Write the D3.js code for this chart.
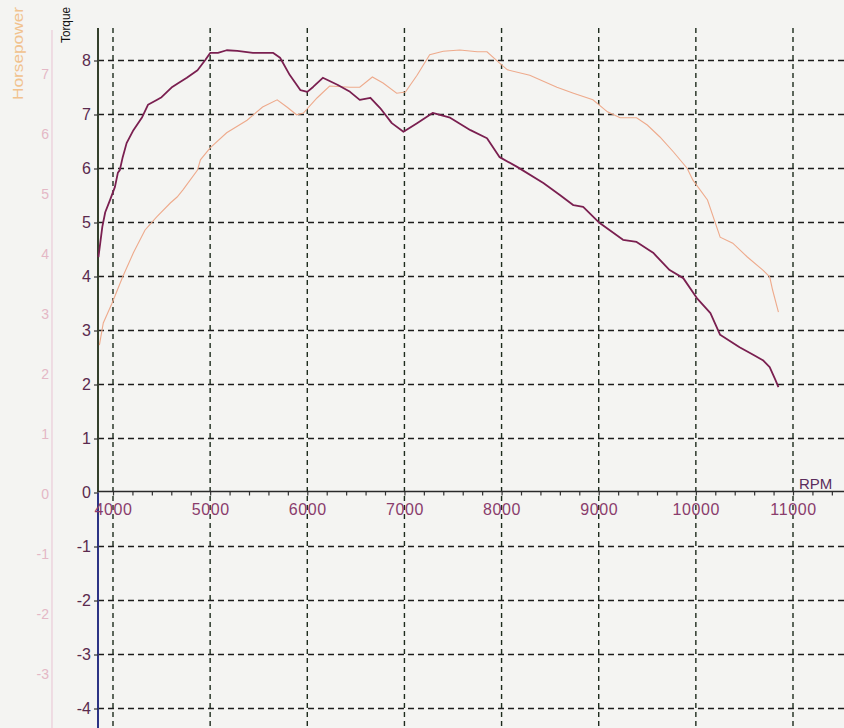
<!DOCTYPE html>
<html>
<head>
<meta charset="utf-8">
<script src="https://cdn.jsdelivr.net/npm/d3@7/dist/d3.min.js"></script>
<style>
  html, body { margin: 0; padding: 0; background: #f4f4f2; }
  svg { display: block; }
  text { font-family: Arial, "Liberation Sans", sans-serif; }
</style>
</head>
<body>
<svg id="chart" width="844" height="728"></svg>
<script>
// ---------- data ----------
const rpmTicks = [4000, 5000, 6000, 7000, 8000, 9000, 10000, 11000];
const torqueTicks = [-4, -3, -2, -1, 0, 1, 2, 3, 4, 5, 6, 7, 8];
const hpTicks = [-3, -2, -1, 0, 1, 2, 3, 4, 5, 6, 7];

const torqueRpm = [3850, 3890, 3920, 3970, 4020, 4050, 4070, 4100, 4140, 4210, 4300, 4360, 4450, 4500,
  4610, 4670, 4760, 4870, 4950, 5000, 5080, 5170, 5280, 5440, 5650, 5720, 5820, 5930, 6000, 6060,
  6160, 6310, 6440, 6540, 6650, 6750, 6870, 6990, 7130, 7290, 7470, 7680, 7850, 7980, 8160, 8430,
  8600, 8740, 8840, 9010, 9250, 9390, 9560, 9730, 9870, 10010, 10150, 10250, 10450, 10590, 10690,
  10760, 10820, 10850];
const torqueVals = [4.36, 4.92, 5.19, 5.42, 5.66, 5.92, 5.97, 6.21, 6.47, 6.71, 6.95, 7.18, 7.27, 7.32,
  7.51, 7.58, 7.68, 7.82, 8.01, 8.14, 8.14, 8.19, 8.18, 8.14, 8.14, 8.05, 7.73, 7.45, 7.42, 7.51,
  7.68, 7.55, 7.42, 7.27, 7.31, 7.12, 6.84, 6.68, 6.84, 7.03, 6.94, 6.71, 6.56, 6.21, 6.03, 5.73,
  5.51, 5.32, 5.29, 4.99, 4.68, 4.64, 4.44, 4.12, 3.97, 3.60, 3.32, 2.92, 2.69, 2.55, 2.45,
  2.32, 2.08, 1.95];

const hpRpm = [3860, 3900, 3990, 4100, 4210, 4330, 4450, 4590, 4660, 4720, 4870, 4900, 5000, 5170,
  5380, 5540, 5690, 5790, 5890, 5960, 6100, 6230, 6440, 6540, 6670, 6780, 6920, 7010, 7130, 7260,
  7400, 7570, 7750, 7850, 7980, 8060, 8290, 8570, 8740, 8940, 9090, 9220, 9390, 9500, 9630, 9770,
  9910, 9970, 10120, 10250, 10380, 10530, 10690, 10760, 10790, 10850];
const hpVals = [2.48, 2.85, 3.18, 3.62, 4.02, 4.40, 4.62, 4.85, 4.95, 5.07, 5.40, 5.57, 5.77, 6.02,
  6.23, 6.45, 6.57, 6.45, 6.32, 6.35, 6.60, 6.80, 6.78, 6.78, 6.95, 6.85, 6.68, 6.70, 6.98, 7.32,
  7.38, 7.40, 7.37, 7.37, 7.18, 7.07, 6.98, 6.78, 6.68, 6.57, 6.37, 6.27, 6.27, 6.15, 5.95, 5.70,
  5.43, 5.23, 4.90, 4.28, 4.18, 3.95, 3.73, 3.62, 3.40, 3.03];

// ---------- layout ----------
const W = 844, H = 728;
const axisX = 98, hpAxisX = 52, gridTop = 28;
const x = d3.scaleLinear().domain([4000, 11000]).range([113, 793]);
const yT = d3.scaleLinear().domain([0, 8]).range([492.5, 60.5]);
const yHP = d3.scaleLinear().domain([0, 7]).range([494, 74]);
const fmt = d => String(d);  // plain hyphen minus as in the original

const svg = d3.select("#chart");
svg.append("rect").attr("width", W).attr("height", H).attr("fill", "#f4f4f2");

// horizontal dashed grid (torque units)
svg.append("g").selectAll("line").data(torqueTicks.filter(d => d !== 0)).join("line")
  .attr("x1", axisX).attr("x2", W)
  .attr("y1", d => yT(d)).attr("y2", d => yT(d))
  .attr("stroke", "#1c1c1c").attr("stroke-width", 1.4)
  .attr("stroke-dasharray", "6,4");

// vertical dashed grid (RPM)
svg.append("g").selectAll("line").data(rpmTicks).join("line")
  .attr("x1", d => x(d)).attr("x2", d => x(d))
  .attr("y1", gridTop).attr("y2", H)
  .attr("stroke", "#1d2b1d").attr("stroke-width", 1.4)
  .attr("stroke-dasharray", "5,4");

// horsepower axis line (faint)
svg.append("line").attr("x1", hpAxisX).attr("x2", hpAxisX).attr("y1", 30).attr("y2", H)
  .attr("stroke", "#e9c3d3").attr("stroke-width", 1);

// horsepower tick labels
const hpAxis = d3.axisLeft(yHP).tickValues(hpTicks).tickSize(0).tickPadding(3).tickFormat(fmt);
const gHP = svg.append("g").attr("transform", `translate(${hpAxisX},0)`).call(hpAxis);
gHP.select(".domain").remove();
gHP.selectAll("text").attr("fill", "#e4b8c6").attr("font-size", 14)
  .attr("font-family", "Arial, 'Liberation Sans', sans-serif");

// torque axis line (two tints as in the scan)
svg.append("line").attr("x1", axisX).attr("x2", axisX).attr("y1", gridTop).attr("y2", yT(0))
  .attr("stroke", "#34402c").attr("stroke-width", 2);
svg.append("line").attr("x1", axisX).attr("x2", axisX).attr("y1", yT(0)).attr("y2", H)
  .attr("stroke", "#2c3384").attr("stroke-width", 2);

// torque ticks + labels
const tAxis = d3.axisLeft(yT).tickValues(torqueTicks).tickSize(4).tickPadding(3).tickFormat(fmt);
const gT = svg.append("g").attr("transform", `translate(${axisX},0)`).call(tAxis);
gT.select(".domain").remove();
gT.selectAll(".tick line").attr("stroke", "#333").attr("stroke-width", 1.2);
gT.selectAll("text").attr("fill", "#5a2a4e").attr("font-size", 16)
  .attr("font-family", "Arial, 'Liberation Sans', sans-serif");

// RPM axis: minor ticks and labels
const minorTicks = d3.range(4000, 11401, 200);
const xAxis = d3.axisBottom(x).tickValues(minorTicks).tickSize(4).tickPadding(8)
  .tickFormat(d => (d % 1000 === 0 && d <= 11000) ? String(d) : "");
const gX = svg.append("g").attr("transform", `translate(0,${yT(0) - 1})`).call(xAxis);
gX.select(".domain").remove();
gX.selectAll(".tick line").attr("stroke", "#333").attr("stroke-width", 1.2);
gX.selectAll("text").attr("fill", "#8a3c6c").attr("font-size", 16).attr("letter-spacing", 0.6)
  .attr("font-family", "Arial, 'Liberation Sans', sans-serif");
svg.append("line").attr("x1", axisX).attr("x2", W).attr("y1", yT(0) - 1).attr("y2", yT(0) - 1)
  .attr("stroke", "#2a2a2a").attr("stroke-width", 1.6);

svg.append("text").attr("x", 799).attr("y", 489).attr("fill", "#5a2c5c")
  .attr("font-size", 15).text("RPM");

// axis titles
svg.append("text").attr("transform", "translate(70,43) rotate(-90)")
  .attr("font-size", 13).attr("textLength", 36).attr("lengthAdjust", "spacingAndGlyphs")
  .attr("fill", "#111").text("Torque");
svg.append("text").attr("transform", "translate(23,100) rotate(-90)")
  .attr("font-size", 15).attr("textLength", 93).attr("lengthAdjust", "spacingAndGlyphs")
  .attr("fill", "#f1c28e").text("Horsepower");

// curves
const hpLine = d3.line().x(d => x(d[0])).y(d => yHP(d[1]));
svg.append("path").datum(hpRpm.map((r, i) => [r, hpVals[i]]))
  .attr("d", hpLine).attr("fill", "none").attr("stroke", "#eeaa8c").attr("stroke-width", 1.1);

const tLine = d3.line().x(d => x(d[0])).y(d => yT(d[1]));
svg.append("path").datum(torqueRpm.map((r, i) => [r, torqueVals[i]]))
  .attr("d", tLine).attr("fill", "none").attr("stroke", "#7a1f50").attr("stroke-width", 1.8)
  .attr("stroke-linejoin", "round");
</script>
</body>
</html>
